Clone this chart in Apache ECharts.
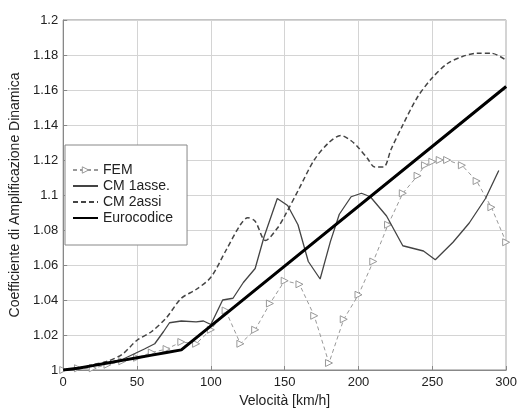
<!DOCTYPE html>
<html>
<head>
<meta charset="utf-8">
<script src="https://cdn.jsdelivr.net/npm/echarts@6/dist/echarts.min.js"></script>
<style>html,body{margin:0;padding:0;background:#fff}#c{width:520px;height:413px}</style>
</head>
<body>
<div id="c"></div>
<script>
// Velocity (km/h) and dynamic amplification coefficients
const femV = [0,10,20,30,40,50,60,70,80,90,100,110,120,130,140,150,160,170,180,190,200,210,220,230,240,245,250,255,260,270,280,290,300];
const femC = [1.000,1.001,1.001,1.003,1.005,1.007,1.010,1.012,1.016,1.015,1.023,1.034,1.015,1.023,1.038,1.051,1.049,1.031,1.004,1.029,1.043,1.062,1.083,1.101,1.111,1.117,1.119,1.120,1.120,1.117,1.108,1.093,1.073];

const cm1V = [0,10,20,30,40,50,55,62,68,72,80,90,95,100,108,115,122,130,136,145,152,159,166,174,181,187,195,202,208,219,230,244,252,264,275,286,295];
const cm1C = [1.000,1.001,1.0025,1.004,1.006,1.010,1.012,1.015,1.022,1.027,1.028,1.0275,1.028,1.026,1.040,1.041,1.050,1.058,1.076,1.098,1.094,1.083,1.062,1.052,1.0735,1.089,1.099,1.101,1.099,1.088,1.071,1.068,1.063,1.073,1.084,1.098,1.114];

const cm2V = [0,10,20,30,40,50,60,70,80,90,100,110,120,125,130,137,145,150,160,170,180,188,195,200,206,211,217,222,230,240,250,260,270,280,290,300];
const cm2C = [1.000,1.001,1.003,1.005,1.009,1.017,1.022,1.030,1.041,1.046,1.053,1.068,1.083,1.087,1.085,1.074,1.081,1.088,1.104,1.120,1.130,1.134,1.131,1.127,1.121,1.116,1.116,1.126,1.140,1.156,1.167,1.175,1.179,1.181,1.181,1.177];

const euroV = [0,10,20,30,40,50,60,70,80,300];
const euroC = [1.000,1.001,1.0025,1.004,1.0055,1.007,1.0085,1.010,1.0115,1.162];

const xTicks = {min: 0, max: 300, interval: 50};
const yTicks = {min: 1, max: 1.2, interval: 0.02};
const names = ['FEM', 'CM 1asse.', 'CM 2assi', 'Eurocodice'];

function pairs(v, c) { return v.map((x, i) => [x, c[i]]); }

const chart = echarts.init(document.getElementById('c'), null, {renderer: 'canvas'});
const font = 'Liberation Sans, Arial, sans-serif';
chart.setOption({
  animation: false,
  backgroundColor: '#fff',
  grid: {left: 58, right: 12, top: 20, bottom: 40, show: true, borderColor: '#888', borderWidth: 1, containLabel: false},
  xAxis: {
    type: 'value', min: xTicks.min, max: xTicks.max, interval: xTicks.interval,
    name: 'Velocità [km/h]', nameLocation: 'middle', nameGap: 24,
    nameTextStyle: {fontFamily: font, fontSize: 14, color: '#222'},
    axisLine: {show: true, lineStyle: {color: '#888'}},
    axisTick: {show: true, inside: true, length: 4, lineStyle: {color: '#888'}},
    axisLabel: {fontFamily: font, fontSize: 13, color: '#222', margin: 6},
    splitLine: {show: true, lineStyle: {color: '#d4d4d4', width: 1}}
  },
  yAxis: {
    type: 'value', min: yTicks.min, max: yTicks.max, interval: yTicks.interval,
    name: 'Coefficiente di Amplificazione Dinamica', nameLocation: 'middle', nameGap: 40,
    nameTextStyle: {fontFamily: font, fontSize: 14, color: '#222'},
    axisLine: {show: true, lineStyle: {color: '#888'}},
    axisTick: {show: true, inside: true, length: 4, lineStyle: {color: '#888'}},
    axisLabel: {fontFamily: font, fontSize: 13, color: '#222', margin: 5,
      formatter: v => String(+v.toFixed(2))},
    splitLine: {show: true, lineStyle: {color: '#d4d4d4', width: 1}}
  },
  legend: {
    show: true, orient: 'vertical', left: 65, top: 145,
    data: [
      {name: names[0], itemStyle: {color: '#fff', borderColor: '#999', borderWidth: 1}},
      {name: names[1], itemStyle: {opacity: 0}},
      {name: names[2], itemStyle: {opacity: 0}},
      {name: names[3], itemStyle: {opacity: 0}}
    ],
    backgroundColor: '#fff', borderColor: '#888', borderWidth: 1,
    padding: [18, 14, 20, 7], itemWidth: 25, itemHeight: 8, itemGap: 2,
    textStyle: {fontFamily: font, fontSize: 14, color: '#222'}
  },
  series: [
    {name: names[0], type: 'line', data: pairs(femV, femC), z: 3,
     symbol: 'triangle', symbolRotate: -90, symbolSize: 7, showSymbol: true,
     itemStyle: {color: '#fff', borderColor: '#999', borderWidth: 1},
     lineStyle: {color: '#999', width: 1, type: [4, 3]}},
    {name: names[1], type: 'line', data: pairs(cm1V, cm1C), z: 4, showSymbol: false, symbol: 'none',
     itemStyle: {color: '#444'},
     lineStyle: {color: '#444', width: 1.3}},
    {name: names[2], type: 'line', data: pairs(cm2V, cm2C), z: 4, showSymbol: false, symbol: 'none', smooth: 0.3,
     itemStyle: {color: '#444'},
     lineStyle: {color: '#444', width: 1.5, type: [5, 3]}},
    {name: names[3], type: 'line', data: pairs(euroV, euroC), z: 5, showSymbol: false, symbol: 'none',
     itemStyle: {color: '#000'},
     lineStyle: {color: '#000', width: 3}}
  ]
});
</script>
</body>
</html>
